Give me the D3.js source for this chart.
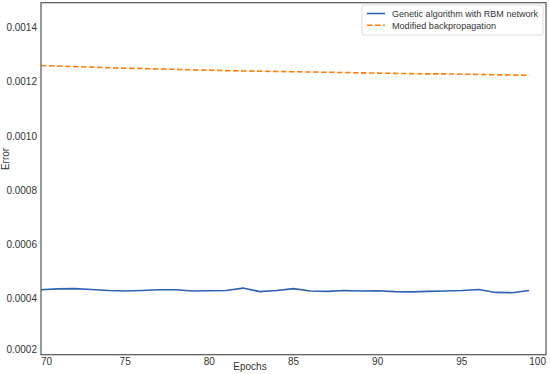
<!DOCTYPE html>
<html>
<head>
<meta charset="utf-8">
<script src="https://cdn.jsdelivr.net/npm/d3@7"></script>
<style>
  body { margin: 0; background: #fff; }
  svg text { font-family: "Liberation Sans", Arial, sans-serif; fill: #333; }
</style>
</head>
<body>
<div id="chart"></div>
<script>
// donnees
const epochs = [70, 71, 72, 73, 74, 75, 76, 77, 78, 79, 80, 81, 82, 83, 84,
                85, 86, 87, 88, 89, 90, 91, 92, 93, 94, 95, 96, 97, 98, 99];

const geneticRBM = [0.000440, 0.000443, 0.000444, 0.000441, 0.000437, 0.000435, 0.000437, 0.000440,
                    0.000440, 0.000435, 0.000436, 0.000437, 0.000446, 0.000433, 0.000437, 0.000444,
                    0.000435, 0.000434, 0.000437, 0.000435, 0.000436, 0.000433, 0.000432, 0.000434,
                    0.000435, 0.000437, 0.000441, 0.000430, 0.000429, 0.000437];

const modifiedBackprop = [0.001268, 0.001266, 0.001264, 0.001262, 0.001260, 0.001258, 0.001257, 0.001255,
                          0.001254, 0.001252, 0.001251, 0.001249, 0.001248, 0.001247, 0.001246, 0.001245,
                          0.001244, 0.001243, 0.001242, 0.001241, 0.001240, 0.001239, 0.001238, 0.001237,
                          0.001237, 0.001236, 0.001235, 0.001234, 0.001233, 0.001232];

const xTicks = [70, 75, 80, 85, 90, 95, 100];
const yTicks = [0.0002, 0.0004, 0.0006, 0.0008, 0.0010, 0.0012, 0.0014];
const seriesNames = ["Genetic algorithm with RBM network", "Modified backpropagation"];

const width = 550, height = 374;
const margin = { top: 2.7, right: 4, bottom: 19.3, left: 41 };

const svg = d3.select("#chart").append("svg")
    .attr("width", width)
    .attr("height", height);

const x = d3.scaleLinear()
    .domain([70, 100])
    .range([margin.left, width - margin.right]);

const y = d3.scaleLinear()
    .domain([0.0002, 0.0015])
    .range([height - margin.bottom, margin.top]);

// ticks X
svg.append("g")
    .selectAll("text")
    .data(xTicks)
    .enter().append("text")
    .attr("x", d => x(d))
    .attr("y", 365)
    .attr("text-anchor", (d, i) => i === 0 ? "start" : (i === xTicks.length - 1 ? "end" : "middle"))
    .style("font-size", "10px")
    .text(d => d);

// ticks Y
svg.append("g")
    .selectAll("text")
    .data(yTicks)
    .enter().append("text")
    .attr("x", 37)
    .attr("y", d => Math.min(y(d), 351) - 2 + 3.5)
    .attr("text-anchor", "end")
    .style("font-size", "10px")
    .text(d => d3.format(".4f")(d));

// courbes
const lineGA = d3.line()
    .x((d, i) => x(epochs[i]))
    .y(d => y(d));

svg.append("path")
    .datum(geneticRBM)
    .attr("fill", "none")
    .attr("stroke", "#2c62b0")
    .attr("stroke-width", 1.6)
    .attr("d", lineGA);

svg.append("path")
    .datum(modifiedBackprop)
    .attr("fill", "none")
    .attr("stroke", "#ff7f0e")
    .attr("stroke-width", 1.6)
    .attr("stroke-dasharray", "5.5,2.5")
    .attr("d", lineGA);

// cadre
svg.append("rect")
    .attr("x", margin.left)
    .attr("y", margin.top)
    .attr("width", width - margin.right - margin.left)
    .attr("height", height - margin.bottom - margin.top)
    .attr("fill", "none")
    .attr("stroke", "#555")
    .attr("stroke-width", 1.2);

// labels des axes
svg.append("text")
    .attr("x", 250)
    .attr("y", 370)
    .attr("text-anchor", "middle")
    .style("font-size", "10px")
    .text("Epochs");

svg.append("text")
    .attr("transform", "rotate(-90)")
    .attr("x", -159)
    .attr("y", 9)
    .attr("text-anchor", "middle")
    .style("font-size", "10px")
    .text("Error");

// legende
const legend = svg.append("g");
legend.append("rect")
    .attr("x", 362)
    .attr("y", 5)
    .attr("width", 181)
    .attr("height", 30)
    .attr("rx", 2)
    .attr("fill", "#fff")
    .attr("fill-opacity", 0.8)
    .attr("stroke", "#ddd");

const legendColors = ["#2c62b0", "#ff7f0e"];
const legendWidths = [146, 104];
seriesNames.forEach((name, i) => {
    legend.append("line")
        .attr("x1", 367).attr("x2", 385)
        .attr("y1", 13.5 + i * 11.7).attr("y2", 13.5 + i * 11.7)
        .attr("stroke", legendColors[i])
        .attr("stroke-width", 1.6)
        .attr("stroke-dasharray", i === 1 ? "5.5,2.5" : null);
    legend.append("text")
        .attr("x", 392)
        .attr("y", 13.5 + i * 11.7 + 3.3)
        .attr("textLength", legendWidths[i])
        .attr("lengthAdjust", "spacingAndGlyphs")
        .style("font-size", "9.5px")
        .text(name);
});
</script>
</body>
</html>
